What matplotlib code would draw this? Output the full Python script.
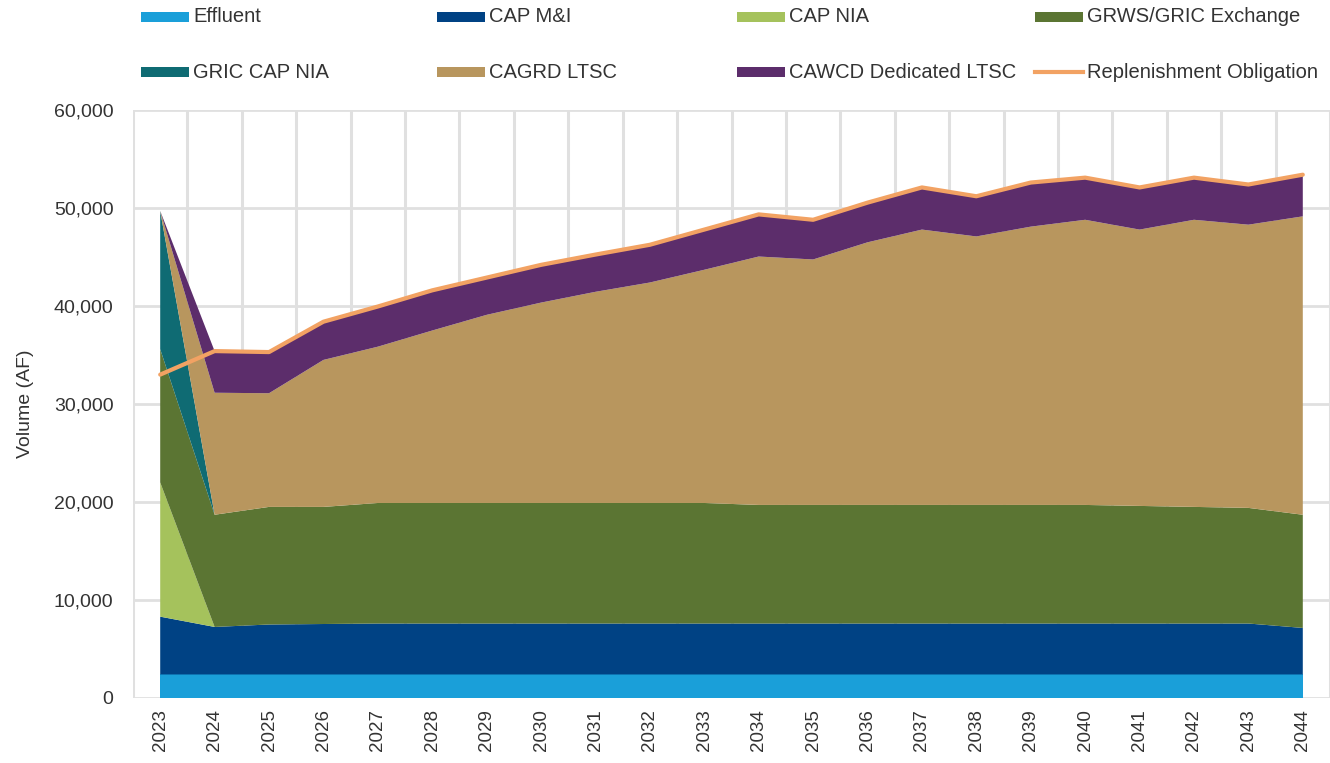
import numpy as np
import matplotlib
matplotlib.use("Agg")
import matplotlib.pyplot as plt
from matplotlib.patches import Rectangle
from matplotlib.lines import Line2D
from matplotlib.ticker import FuncFormatter

# ------------------------------------------------------------
# Data (acre-feet)
# ------------------------------------------------------------
years = list(range(2023, 2045))

effluent = [2400] * 22
cap_mi = [5900, 4850, 5100, 5150, 5200, 5200, 5200, 5200, 5200, 5200, 5200,
          5200, 5200, 5200, 5200, 5200, 5200, 5200, 5200, 5200, 5200, 4750]
cap_nia = [13700] + [0] * 21
grws_gric = [13600, 11450, 12000, 11950, 12300, 12300, 12300, 12300, 12300, 12300, 12300,
             12100, 12100, 12100, 12100, 12100, 12100, 12100, 12000, 11900, 11800, 11550]
gric_cap_nia = [14100] + [0] * 21
cagrd_ltsc = [0, 12450, 11600, 15000, 15950, 17600, 19200, 20450, 21550, 22500, 23800,
              25350, 25050, 26800, 28100, 27400, 28400, 29100, 28200, 29300, 28900, 30450]
cawcd_ltsc = [0, 4250, 4200, 3900, 4100, 4100, 3800, 3850, 3800, 3850, 4100,
              4300, 4050, 4050, 4300, 4100, 4500, 4300, 4300, 4300, 4100, 4250]
replenishment = [33000, 35400, 35300, 38400, 39950, 41600, 42900, 44200, 45250, 46250, 47800,
                 49350, 48800, 50550, 52100, 51200, 52600, 53100, 52100, 53100, 52400, 53400]

labels = ["Effluent", "CAP M&I", "CAP NIA", "GRWS/GRIC Exchange",
          "GRIC CAP NIA", "CAGRD LTSC", "CAWCD Dedicated LTSC"]
colors = ["#1a9fd9", "#004284", "#a5c25c", "#5b7533",
          "#0f6b73", "#b8965e", "#5c2d6b"]
line_color = "#f2a263"
text_color = "#333333"
grid_color = "#e0e0e0"

# ------------------------------------------------------------
# Figure
# ------------------------------------------------------------
plt.rcParams["font.family"] = ["Liberation Sans", "DejaVu Sans"]

fig = plt.figure(figsize=(13.3, 7.63), dpi=100)
ax = fig.add_axes([0.1, 0.0852, 0.9, 0.7706])

x = np.arange(len(years))
ax.stackplot(x, effluent, cap_mi, cap_nia, grws_gric, gric_cap_nia, cagrd_ltsc, cawcd_ltsc,
             colors=colors, linewidth=0, zorder=2)
ax.plot(x, replenishment, color=line_color, lw=3, zorder=3,
        solid_joinstyle="round", solid_capstyle="round")

ax.set_xlim(-0.5, 21.3)
ax.set_ylim(0, 60000)
ax.set_xticks(x)
ax.set_xticklabels([str(y) for y in years], rotation=90, fontsize=13.5, color=text_color)
ax.set_xticks(np.arange(-0.5, 22, 1), minor=True)
ax.set_yticks(np.arange(0, 60001, 10000))
ax.yaxis.set_major_formatter(FuncFormatter(lambda v, p: f"{int(v):,}"))
ax.tick_params(axis="y", labelsize=14, labelcolor=text_color, length=0, pad=14)
ax.tick_params(axis="x", which="both", length=0, pad=8)

ax.grid(axis="y", which="major", color=grid_color, lw=2)
ax.grid(axis="x", which="minor", color=grid_color, lw=2.2)
ax.set_axisbelow(True)
for s in ax.spines.values():
    s.set_visible(False)

ax.set_ylabel("Volume (AF)", fontsize=14, color=text_color, labelpad=14)

# ------------------------------------------------------------
# Legend (two rows, Excel-style placement)
# ------------------------------------------------------------
W, H = 1330.0, 763.0
entries = [
    (labels[0], colors[0], 141, 17, "patch"),
    (labels[1], colors[1], 437, 17, "patch"),
    (labels[2], colors[2], 737, 17, "patch"),
    (labels[3], colors[3], 1035, 17, "patch"),
    (labels[4], colors[4], 141, 72, "patch"),
    (labels[5], colors[5], 437, 72, "patch"),
    (labels[6], colors[6], 737, 72, "patch"),
    ("Replenishment Obligation", line_color, 1035, 72, "line"),
]
for text, col, px, py, kind in entries:
    if kind == "patch":
        fig.add_artist(Rectangle((px / W, 1 - (py + 5) / H), 48 / W, 10 / H,
                                 transform=fig.transFigure, color=col, lw=0))
    else:
        fig.add_artist(Line2D([px / W, (px + 48) / W], [1 - py / H, 1 - py / H],
                              transform=fig.transFigure, color=col, lw=3))
    fig.text((px + 52) / W, 1 - py / H, text, fontsize=14.5, color=text_color,
             ha="left", va="center")

fig.savefig("out.png", dpi=100)
